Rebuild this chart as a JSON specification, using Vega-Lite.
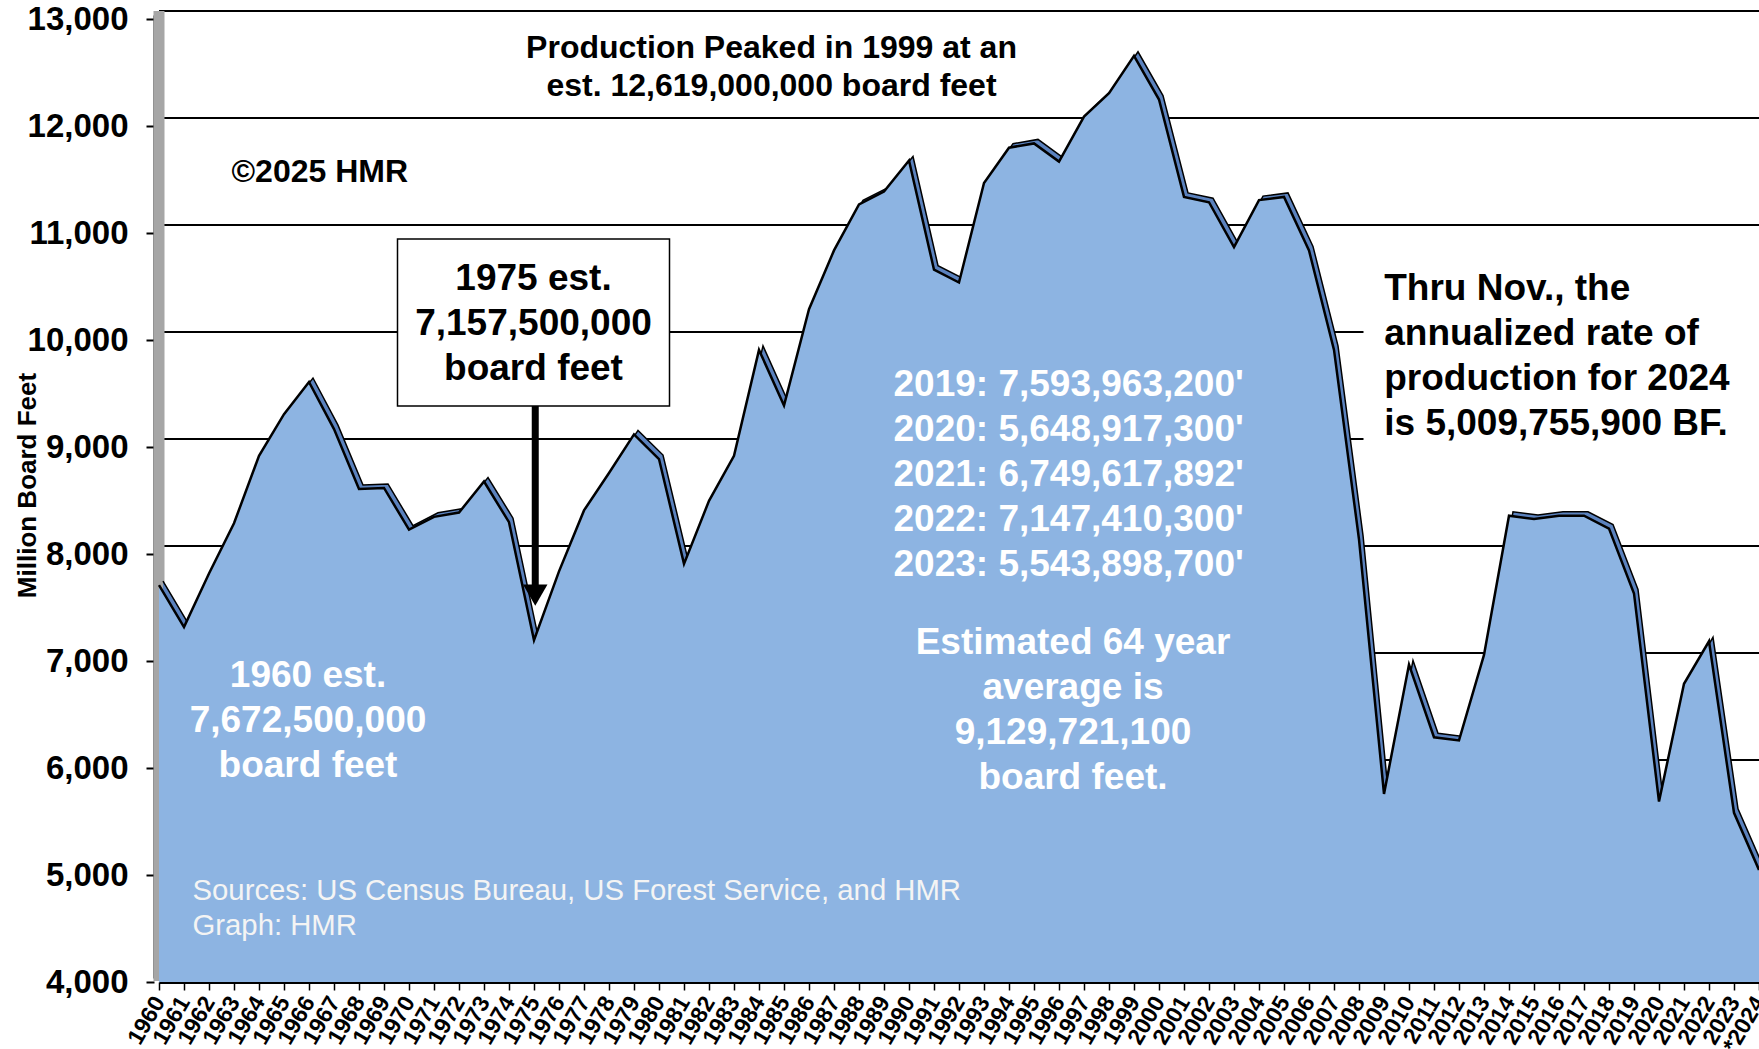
{
  "$schema": "https://vega.github.io/schema/vega-lite/v6.json",
  "width": 1600,
  "height": 963,
  "autosize": {"type": "none"},
  "padding": {"left": 159, "top": 15, "right": 0, "bottom": 71},
  "background": "white",
  "config": {
    "view": {"stroke": null},
    "font": "Liberation Sans",
    "axisX": {
      "zindex": 1,
      "labelAngle": -60,
      "labelFont": "Liberation Sans",
      "labelFontWeight": "bold",
      "labelFontSize": 23,
      "labelColor": "black",
      "labelPadding": 8,
      "labelOverlap": false,
      "labelFlush": false,
      "labelBound": false,
      "offset": 4,
      "domainColor": "black",
      "domainWidth": 3,
      "tickColor": "black",
      "tickWidth": 1.5,
      "tickSize": 8,
      "grid": false
    },
    "axisY": {
      "zindex": 1,
      "titleFont": "Liberation Sans",
      "titleFontWeight": "bold",
      "titleFontSize": 26,
      "titleColor": "black",
      "titleAngle": 270,
      "titleAlign": "center",
      "titleBaseline": "middle",
      "titleX": -127,
      "titleY": 470,
      "labelFont": "Liberation Sans",
      "labelFontWeight": "bold",
      "labelFontSize": 33,
      "labelColor": "black",
      "labelPadding": 18,
      "labelOverlap": false,
      "labelFlush": false,
      "labelBound": false,
      "offset": 5,
      "domainColor": "black",
      "domainWidth": 2,
      "tickColor": "black",
      "tickWidth": 2,
      "tickSize": 8,
      "tickOffset": 4,
      "grid": false
    }
  },
  "datasets": {
    "prod": [
      {"year": 1960, "bf": 7672.5}, {"year": 1961, "bf": 7280}, {"year": 1962, "bf": 7780}, {"year": 1963, "bf": 8250},
      {"year": 1964, "bf": 8880}, {"year": 1965, "bf": 9270}, {"year": 1966, "bf": 9570}, {"year": 1967, "bf": 9130},
      {"year": 1968, "bf": 8570}, {"year": 1969, "bf": 8580}, {"year": 1970, "bf": 8190}, {"year": 1971, "bf": 8310},
      {"year": 1972, "bf": 8350}, {"year": 1973, "bf": 8640}, {"year": 1974, "bf": 8260}, {"year": 1975, "bf": 7157.5},
      {"year": 1976, "bf": 7800}, {"year": 1977, "bf": 8370}, {"year": 1978, "bf": 8720}, {"year": 1979, "bf": 9080},
      {"year": 1980, "bf": 8850}, {"year": 1981, "bf": 7870}, {"year": 1982, "bf": 8460}, {"year": 1983, "bf": 8880},
      {"year": 1984, "bf": 9870}, {"year": 1985, "bf": 9350}, {"year": 1986, "bf": 10250}, {"year": 1987, "bf": 10800},
      {"year": 1988, "bf": 11230}, {"year": 1989, "bf": 11350}, {"year": 1990, "bf": 11640}, {"year": 1991, "bf": 10620},
      {"year": 1992, "bf": 10500}, {"year": 1993, "bf": 11430}, {"year": 1994, "bf": 11760}, {"year": 1995, "bf": 11800},
      {"year": 1996, "bf": 11630}, {"year": 1997, "bf": 12050}, {"year": 1998, "bf": 12270}, {"year": 1999, "bf": 12619},
      {"year": 2000, "bf": 12210}, {"year": 2001, "bf": 11300}, {"year": 2002, "bf": 11250}, {"year": 2003, "bf": 10830},
      {"year": 2004, "bf": 11270}, {"year": 2005, "bf": 11300}, {"year": 2006, "bf": 10800}, {"year": 2007, "bf": 9870},
      {"year": 2008, "bf": 8100}, {"year": 2009, "bf": 5720}, {"year": 2010, "bf": 6930}, {"year": 2011, "bf": 6250},
      {"year": 2012, "bf": 6220}, {"year": 2013, "bf": 7020}, {"year": 2014, "bf": 8320}, {"year": 2015, "bf": 8290},
      {"year": 2016, "bf": 8320}, {"year": 2017, "bf": 8320}, {"year": 2018, "bf": 8200}, {"year": 2019, "bf": 7594},
      {"year": 2020, "bf": 5649}, {"year": 2021, "bf": 6750}, {"year": 2022, "bf": 7147}, {"year": 2023, "bf": 5544},
      {"year": 2024, "bf": 5010}
    ],
    "grid": [{"g": 5000}, {"g": 6000}, {"g": 7000}, {"g": 8000}, {"g": 9000}, {"g": 10000}, {"g": 11000}, {"g": 12000}, {"g": 13000}],
    "one": [{"k": 1}]
  },
  "layer": [
    {
      "data": {"name": "prod"},
      "mark": {"type": "area", "color": "#8DB4E2", "opacity": 0},
      "encoding": {
        "x": {
          "field": "year", "type": "quantitative", "title": null,
          "scale": {"domain": [1960, 2024], "nice": false, "zero": false},
          "axis": {"title": null, "tickCount": 64, "labelExpr": "datum.value == 2024 ? '*2024' : format(datum.value, 'd')"}
        },
        "y": {
          "field": "bf", "type": "quantitative", "title": "Million Board Feet",
          "scale": {"domain": [4000, 13000], "nice": false, "zero": false},
          "axis": {"title": "Million Board Feet", "tickCount": 9, "labelExpr": "format(datum.value, ',')"}
        },
        "y2": {"datum": 4000}
      }
    },
    {
      "data": {"name": "grid"},
      "mark": {"type": "rule", "color": "black", "strokeWidth": 2, "yOffset": -4},
      "encoding": {
        "y": {"field": "g", "type": "quantitative", "axis": {"title": "Million Board Feet", "tickCount": 9, "labelExpr": "format(datum.value, ',')"}}
      }
    },
    {
      "data": {"name": "one"},
      "mark": {"type": "rect", "color": "white"},
      "encoding": {
        "x": {"datum": 2008.18, "type": "quantitative", "axis": {"title": null, "tickCount": 64, "labelExpr": "datum.value == 2024 ? '*2024' : format(datum.value, 'd')"}},
        "x2": {"datum": 2024.5},
        "y": {"datum": 10757, "type": "quantitative", "axis": {"title": "Million Board Feet", "tickCount": 9, "labelExpr": "format(datum.value, ',')"}},
        "y2": {"datum": 8916}
      }
    },
    {
      "data": {"name": "one"},
      "mark": {"type": "rule", "color": "#A6A6A6", "strokeWidth": 11, "yOffset": 3, "y2Offset": -4},
      "encoding": {
        "x": {"datum": 1960, "type": "quantitative", "axis": {"title": null, "tickCount": 64, "labelExpr": "datum.value == 2024 ? '*2024' : format(datum.value, 'd')"}},
        "y": {"datum": 4000, "type": "quantitative", "axis": {"title": "Million Board Feet", "tickCount": 9, "labelExpr": "format(datum.value, ',')"}},
        "y2": {"datum": 13000}
      }
    },
    {
      "data": {"name": "prod"},
      "mark": {"type": "area", "color": "#5B82BE", "xOffset": 4, "yOffset": -4, "y2Offset": -4},
      "encoding": {
        "x": {"field": "year", "type": "quantitative", "axis": {"title": null, "tickCount": 64, "labelExpr": "datum.value == 2024 ? '*2024' : format(datum.value, 'd')"}},
        "y": {"field": "bf", "type": "quantitative", "axis": {"title": "Million Board Feet", "tickCount": 9, "labelExpr": "format(datum.value, ',')"}},
        "y2": {"datum": 4000}
      }
    },
    {
      "data": {"name": "prod"},
      "mark": {"type": "line", "color": "black", "strokeWidth": 1.5, "xOffset": 4, "yOffset": -4},
      "encoding": {
        "x": {"field": "year", "type": "quantitative", "axis": {"title": null, "tickCount": 64, "labelExpr": "datum.value == 2024 ? '*2024' : format(datum.value, 'd')"}},
        "y": {"field": "bf", "type": "quantitative", "axis": {"title": "Million Board Feet", "tickCount": 9, "labelExpr": "format(datum.value, ',')"}}
      }
    },
    {
      "data": {"name": "prod"},
      "mark": {"type": "area", "color": "#8DB4E2", "y2Offset": 4},
      "encoding": {
        "x": {"field": "year", "type": "quantitative", "axis": {"title": null, "tickCount": 64, "labelExpr": "datum.value == 2024 ? '*2024' : format(datum.value, 'd')"}},
        "y": {"field": "bf", "type": "quantitative", "axis": {"title": "Million Board Feet", "tickCount": 9, "labelExpr": "format(datum.value, ',')"}},
        "y2": {"datum": 4000}
      }
    },
    {
      "data": {"name": "prod"},
      "mark": {"type": "line", "color": "black", "strokeWidth": 2.5},
      "encoding": {
        "x": {"field": "year", "type": "quantitative", "axis": {"title": null, "tickCount": 64, "labelExpr": "datum.value == 2024 ? '*2024' : format(datum.value, 'd')"}},
        "y": {"field": "bf", "type": "quantitative", "axis": {"title": "Million Board Feet", "tickCount": 9, "labelExpr": "format(datum.value, ',')"}}
      }
    },
    {
      "data": {"name": "one"},
      "mark": {"type": "text", "text": ["Production Peaked in 1999 at an", "est. 12,619,000,000 board feet"], "font": "Liberation Sans", "fontWeight": "bold", "fontSize": 32, "lineHeight": 38, "align": "center", "baseline": "middle", "color": "black"},
      "encoding": {
        "x": {"datum": 1984.5, "type": "quantitative", "axis": {"title": null, "tickCount": 64, "labelExpr": "datum.value == 2024 ? '*2024' : format(datum.value, 'd')"}},
        "y": {"datum": 12692, "type": "quantitative", "axis": {"title": "Million Board Feet", "tickCount": 9, "labelExpr": "format(datum.value, ',')"}}
      }
    },
    {
      "data": {"name": "one"},
      "mark": {"type": "text", "text": "©2025 HMR", "font": "Liberation Sans", "fontWeight": "bold", "fontSize": 32, "align": "left", "baseline": "middle", "color": "black"},
      "encoding": {
        "x": {"datum": 1962.9, "type": "quantitative", "axis": {"title": null, "tickCount": 64, "labelExpr": "datum.value == 2024 ? '*2024' : format(datum.value, 'd')"}},
        "y": {"datum": 11536, "type": "quantitative", "axis": {"title": "Million Board Feet", "tickCount": 9, "labelExpr": "format(datum.value, ',')"}}
      }
    },
    {
      "data": {"name": "one"},
      "mark": {"type": "rect", "fill": "white", "stroke": "black", "strokeWidth": 1.5},
      "encoding": {
        "x": {"datum": 1969.54, "type": "quantitative", "axis": {"title": null, "tickCount": 64, "labelExpr": "datum.value == 2024 ? '*2024' : format(datum.value, 'd')"}},
        "x2": {"datum": 1980.42},
        "y": {"datum": 10906, "type": "quantitative", "axis": {"title": "Million Board Feet", "tickCount": 9, "labelExpr": "format(datum.value, ',')"}},
        "y2": {"datum": 9346}
      }
    },
    {
      "data": {"name": "one"},
      "mark": {"type": "text", "text": ["1975 est.", "7,157,500,000", "board feet"], "font": "Liberation Sans", "fontWeight": "bold", "fontSize": 37, "lineHeight": 45, "align": "center", "baseline": "middle", "color": "black"},
      "encoding": {
        "x": {"datum": 1974.98, "type": "quantitative", "axis": {"title": null, "tickCount": 64, "labelExpr": "datum.value == 2024 ? '*2024' : format(datum.value, 'd')"}},
        "y": {"datum": 10533, "type": "quantitative", "axis": {"title": "Million Board Feet", "tickCount": 9, "labelExpr": "format(datum.value, ',')"}}
      }
    },
    {
      "data": {"name": "one"},
      "mark": {"type": "rule", "color": "black", "strokeWidth": 7},
      "encoding": {
        "x": {"datum": 1975.05, "type": "quantitative", "axis": {"title": null, "tickCount": 64, "labelExpr": "datum.value == 2024 ? '*2024' : format(datum.value, 'd')"}},
        "y": {"datum": 9346, "type": "quantitative", "axis": {"title": "Million Board Feet", "tickCount": 9, "labelExpr": "format(datum.value, ',')"}},
        "y2": {"datum": 7645}
      }
    },
    {
      "data": {"name": "one"},
      "mark": {"type": "point", "shape": "triangle-down", "filled": true, "color": "black", "size": 600, "opacity": 1},
      "encoding": {
        "x": {"datum": 1975.05, "type": "quantitative", "axis": {"title": null, "tickCount": 64, "labelExpr": "datum.value == 2024 ? '*2024' : format(datum.value, 'd')"}},
        "y": {"datum": 7579, "type": "quantitative", "axis": {"title": "Million Board Feet", "tickCount": 9, "labelExpr": "format(datum.value, ',')"}}
      }
    },
    {
      "data": {"name": "one"},
      "mark": {"type": "text", "text": ["1960 est.", "7,672,500,000", "board feet"], "font": "Liberation Sans", "fontWeight": "bold", "fontSize": 37, "lineHeight": 45, "align": "center", "baseline": "middle", "color": "white"},
      "encoding": {
        "x": {"datum": 1965.96, "type": "quantitative", "axis": {"title": null, "tickCount": 64, "labelExpr": "datum.value == 2024 ? '*2024' : format(datum.value, 'd')"}},
        "y": {"datum": 6818, "type": "quantitative", "axis": {"title": "Million Board Feet", "tickCount": 9, "labelExpr": "format(datum.value, ',')"}}
      }
    },
    {
      "data": {"name": "one"},
      "mark": {"type": "text", "text": ["2019: 7,593,963,200'", "2020: 5,648,917,300'", "2021: 6,749,617,892'", "2022: 7,147,410,300'", "2023: 5,543,898,700'"], "font": "Liberation Sans", "fontWeight": "bold", "fontSize": 37, "lineHeight": 45, "align": "left", "baseline": "middle", "color": "white"},
      "encoding": {
        "x": {"datum": 1989.38, "type": "quantitative", "axis": {"title": null, "tickCount": 64, "labelExpr": "datum.value == 2024 ? '*2024' : format(datum.value, 'd')"}},
        "y": {"datum": 9544, "type": "quantitative", "axis": {"title": "Million Board Feet", "tickCount": 9, "labelExpr": "format(datum.value, ',')"}}
      }
    },
    {
      "data": {"name": "one"},
      "mark": {"type": "text", "text": ["Estimated 64 year", "average is", "9,129,721,100", "board feet."], "font": "Liberation Sans", "fontWeight": "bold", "fontSize": 37, "lineHeight": 45, "align": "center", "baseline": "middle", "color": "white"},
      "encoding": {
        "x": {"datum": 1996.56, "type": "quantitative", "axis": {"title": null, "tickCount": 64, "labelExpr": "datum.value == 2024 ? '*2024' : format(datum.value, 'd')"}},
        "y": {"datum": 7131, "type": "quantitative", "axis": {"title": "Million Board Feet", "tickCount": 9, "labelExpr": "format(datum.value, ',')"}}
      }
    },
    {
      "data": {"name": "one"},
      "mark": {"type": "text", "text": ["Thru Nov., the", "annualized rate of", "production for 2024", "is 5,009,755,900 BF."], "font": "Liberation Sans", "fontWeight": "bold", "fontSize": 37, "lineHeight": 45, "align": "left", "baseline": "middle", "color": "black"},
      "encoding": {
        "x": {"datum": 2009.01, "type": "quantitative", "axis": {"title": null, "tickCount": 64, "labelExpr": "datum.value == 2024 ? '*2024' : format(datum.value, 'd')"}},
        "y": {"datum": 10436, "type": "quantitative", "axis": {"title": "Million Board Feet", "tickCount": 9, "labelExpr": "format(datum.value, ',')"}}
      }
    },
    {
      "data": {"name": "one"},
      "mark": {"type": "text", "text": ["Sources: US Census Bureau, US Forest Service, and HMR", "Graph: HMR"], "font": "Liberation Sans", "fontWeight": "normal", "fontSize": 29.3, "lineHeight": 35, "align": "left", "baseline": "middle", "color": "#F4F4F4"},
      "encoding": {
        "x": {"datum": 1961.34, "type": "quantitative", "axis": {"title": null, "tickCount": 64, "labelExpr": "datum.value == 2024 ? '*2024' : format(datum.value, 'd')"}},
        "y": {"datum": 4816, "type": "quantitative", "axis": {"title": "Million Board Feet", "tickCount": 9, "labelExpr": "format(datum.value, ',')"}}
      }
    }
  ]
}
